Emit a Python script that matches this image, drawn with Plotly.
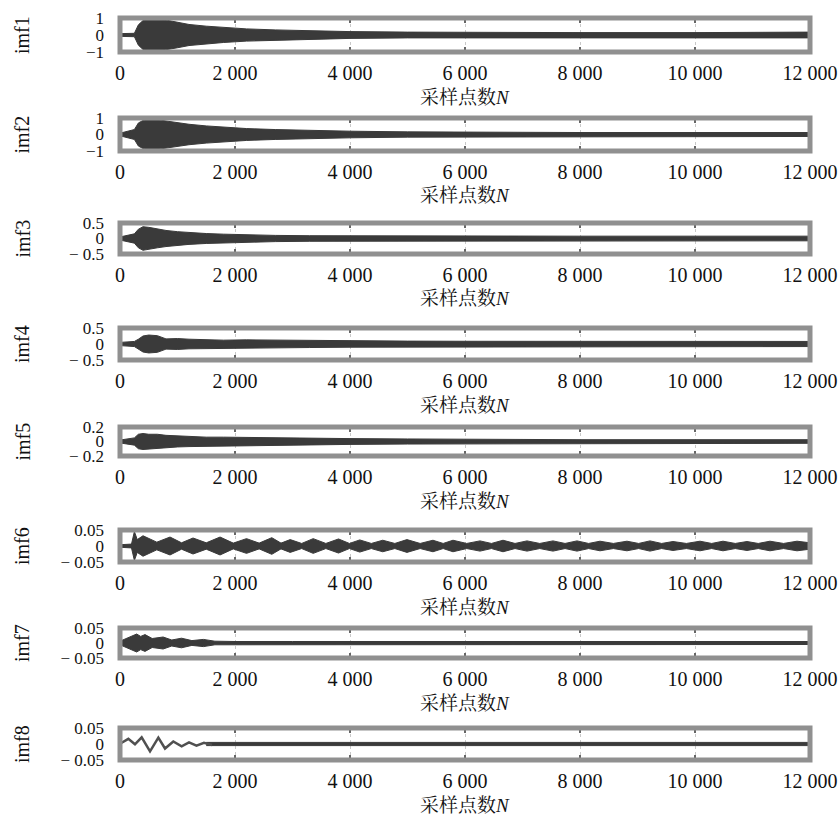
import plotly.graph_objects as go

W, H = 839, 822

# ---------------- data (envelopes) ----------------
labels = ["imf1", "imf2", "imf3", "imf4", "imf5", "imf6", "imf7", "imf8"]
y_limits = [1, 1, 0.5, 0.5, 0.2, 0.05, 0.05, 0.05]
y_ticktext = [["−1", "0", "1"], ["−1", "0", "1"], ["− 0.5", "0", "0.5"],
              ["− 0.5", "0", "0.5"], ["− 0.2", "0", "0.2"],
              ["− 0.05", "0", "0.05"], ["− 0.05", "0", "0.05"], ["− 0.05", "0", "0.05"]]
x_tickvals = [0, 2000, 4000, 6000, 8000, 10000, 12000]
x_ticktext = ["0", "2 000", "4 000", "6 000", "8 000", "10 000", "12 000"]
x_title = "采样点数<i>N</i>"

N_env = [0, 250, 320, 400, 500, 650, 800, 1000, 1200, 1500, 1800, 2200, 2700,
         3300, 4000, 5000, 6000, 8000, 10000, 10800, 11200, 12000]
amp_imf1 = [0.08, 0.1, 0.6, 0.85, 0.95, 0.95, 0.88, 0.75, 0.62, 0.52, 0.44, 0.36, 0.3,
            0.25, 0.2, 0.17, 0.15, 0.14, 0.14, 0.15, 0.17, 0.17]
amp_imf2 = [0.08, 0.3, 0.7, 0.85, 0.92, 0.9, 0.82, 0.72, 0.62, 0.52, 0.44, 0.36, 0.3,
            0.24, 0.2, 0.16, 0.14, 0.12, 0.12, 0.12, 0.12, 0.12]
amp_imf3 = [0.05, 0.15, 0.3, 0.38, 0.36, 0.3, 0.26, 0.22, 0.19, 0.16, 0.14, 0.12, 0.1,
            0.09, 0.085, 0.08, 0.08, 0.075, 0.075, 0.075, 0.075, 0.075]
amp_imf4 = [0.05, 0.08, 0.15, 0.25, 0.28, 0.26, 0.16, 0.17, 0.15, 0.13, 0.12, 0.13, 0.12,
            0.11, 0.1, 0.09, 0.085, 0.08, 0.08, 0.08, 0.08, 0.08]
amp_imf5 = [0.02, 0.05, 0.1, 0.11, 0.1, 0.1, 0.085, 0.075, 0.07, 0.06, 0.06, 0.055, 0.05,
            0.045, 0.04, 0.035, 0.03, 0.025, 0.025, 0.025, 0.025, 0.025]

N_imf6 = [0, 200, 250, 300, 400, 640, 870, 1070, 1270, 1500, 1740, 1970, 2200, 2420, 2640,
          2800, 2960, 3160, 3360, 3580, 3800, 3990, 4170, 4370, 4570, 4780, 4990, 5220,
          5443, 5620, 5791, 6030, 6261, 6460, 6661, 6870, 7078, 7300, 7530, 7740, 7948,
          8150, 8348, 8580, 8817, 9020, 9217, 9420, 9617, 9850, 10087, 10290, 10487,
          10700, 10904, 11100, 11304, 11540, 11774, 12000]
amp_imf6 = [0.004, 0.006, 0.045, 0.02, 0.032, 0.012, 0.028, 0.01, 0.025, 0.01, 0.028, 0.009,
            0.023, 0.009, 0.026, 0.009, 0.02, 0.008, 0.023, 0.008, 0.022, 0.008, 0.019,
            0.008, 0.018, 0.008, 0.02, 0.008, 0.018, 0.008, 0.018, 0.008, 0.016, 0.008,
            0.018, 0.008, 0.016, 0.008, 0.016, 0.008, 0.016, 0.008, 0.015, 0.008, 0.015,
            0.008, 0.016, 0.008, 0.014, 0.008, 0.015, 0.008, 0.015, 0.008, 0.014, 0.008,
            0.015, 0.008, 0.015, 0.01]

N_imf7 = [0, 100, 200, 290, 360, 435, 560, 750, 900, 1070, 1250, 1450, 1650, 2000, 3000,
          4000, 6000, 8000, 10000, 12000]
amp_imf7 = [0.006, 0.015, 0.022, 0.03, 0.022, 0.028, 0.015, 0.02, 0.01, 0.016, 0.008, 0.012,
            0.006, 0.005, 0.005, 0.005, 0.005, 0.005, 0.005, 0.005]

N_imf8_wave = [0, 30, 145, 260, 377, 522, 667, 783, 927, 1072, 1200, 1330, 1460, 1600]
val_imf8_wave = [0.0, 0.004, 0.016, -0.001, 0.021, -0.023, 0.02, -0.014, 0.008, -0.007,
                 0.005, -0.005, 0.004, -0.003]
N_imf8_env = [1500, 3000, 6000, 9000, 12000]
amp_imf8_env = [0.005, 0.005, 0.005, 0.005, 0.005]

envelopes = [(N_env, amp_imf1), (N_env, amp_imf2), (N_env, amp_imf3), (N_env, amp_imf4),
             (N_env, amp_imf5), (N_imf6, amp_imf6), (N_imf7, amp_imf7),
             (N_imf8_env, amp_imf8_env)]

# ---------------- layout geometry (pixels) ----------------
panels_px = [(18, 52), (118, 151), (223, 254), (328, 360), (427, 456), (530, 562),
             (628, 658), (728, 760)]
x_left, x_right = 120, 810
SERIF = "Liberation Serif, Times New Roman, serif"
CJK = "Liberation Serif, Noto Serif CJK SC, Noto Sans CJK SC, serif"

def py(p):
    return 1 - p / H

fig = go.Figure()
annotations = []
shapes = []
sig_color = "#3a3a3a"
frame_color = "#909090"

for i in range(8):
    xa = "x" if i == 0 else f"x{i+1}"
    ya = "y" if i == 0 else f"y{i+1}"
    Ns, amps = envelopes[i]
    xs = list(Ns) + list(Ns)[::-1]
    ys = list(amps) + [-a for a in amps][::-1]
    fig.add_trace(go.Scatter(x=xs, y=ys, fill="toself", fillcolor=sig_color,
                             line=dict(color=sig_color, width=1), mode="lines",
                             xaxis=xa, yaxis=ya, showlegend=False, hoverinfo="skip"))
    if i == 7:
        fig.add_trace(go.Scatter(x=N_imf8_wave, y=val_imf8_wave, mode="lines",
                                 line=dict(color="#505050", width=2.5),
                                 xaxis=xa, yaxis=ya, showlegend=False, hoverinfo="skip"))

    top, bot = panels_px[i]
    lim = y_limits[i]
    xkey = "xaxis" if i == 0 else f"xaxis{i+1}"
    ykey = "yaxis" if i == 0 else f"yaxis{i+1}"
    fig.layout[xkey] = dict(domain=[x_left / W, x_right / W], anchor=ya, range=[0, 12000],
                            tickvals=x_tickvals, ticktext=x_ticktext, automargin=False,
                            ticks="inside", ticklen=5, tickcolor="#666", tickwidth=1.5,
                            showline=True, linecolor=frame_color, linewidth=1, mirror="ticks",
                            showgrid=True, gridcolor="#c8c8c8", griddash="dot", gridwidth=1,
                            zeroline=False, ticklabelstandoff=3,
                            tickfont=dict(family=SERIF, size=20, color="#111"))
    fig.layout[ykey] = dict(domain=[py(bot), py(top)], anchor=xa, range=[-lim, lim],
                            tickvals=[-lim, 0, lim], ticktext=y_ticktext[i], automargin=False,
                            ticks="", showline=False, showgrid=False, zeroline=False,
                            ticklabelstandoff=15,
                            tickfont=dict(family=SERIF, size=17, color="#111"))
    shapes.append(dict(type="rect", xref=f"{xa} domain", yref=f"{ya} domain",
                       x0=0, x1=1, y0=0, y1=1, line=dict(color=frame_color, width=5),
                       layer="above"))
    annotations.append(dict(text=labels[i], xref="paper", yref="paper",
                            x=22 / W, y=py((top + bot) / 2), textangle=-90,
                            showarrow=False, font=dict(family=SERIF, size=20, color="#111"),
                            xanchor="center", yanchor="middle"))
    annotations.append(dict(text=x_title, xref="paper", yref="paper",
                            x=(x_left + x_right) / 2 / W, y=py(bot + 45),
                            showarrow=False, font=dict(family=CJK, size=19, color="#111"),
                            xanchor="center", yanchor="middle"))

fig.update_layout(width=W, height=H, margin=dict(l=0, r=0, t=0, b=0, autoexpand=False),
                  paper_bgcolor="white", plot_bgcolor="white",
                  annotations=annotations, shapes=shapes, showlegend=False)

fig.write_html("out.html", config={"displayModeBar": False},
               post_script="document.body.style.margin='0';document.body.style.overflow='hidden';")
